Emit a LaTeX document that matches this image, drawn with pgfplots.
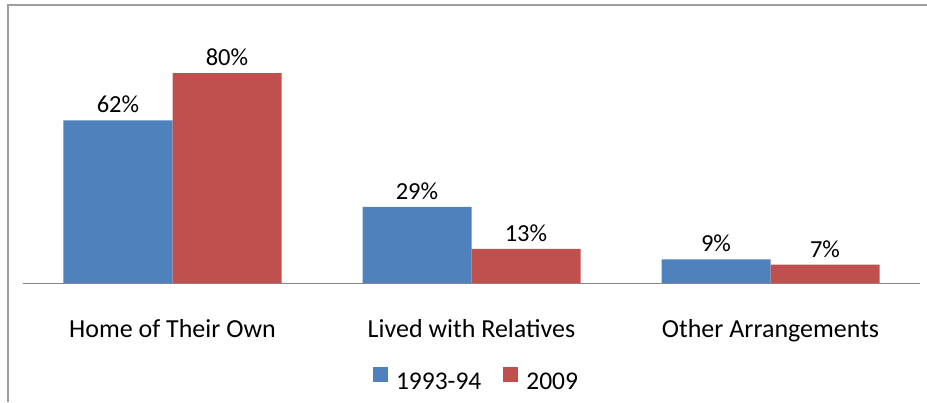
\documentclass[border=0pt]{standalone}
\usepackage{fontspec}
\setmainfont{Carlito}
\usepackage{pgfplots}
\pgfplotsset{compat=1.18}
\definecolor{xlblue}{RGB}{79,129,189}
\definecolor{xlred}{RGB}{192,80,77}
\definecolor{framegray}{RGB}{134,134,134}

\begin{document}
\begin{tikzpicture}
% picture frame and size, 1pt = 1px of the reference
\useasboundingbox (-23pt,-119pt) rectangle (904pt,283pt);
\draw[framegray!80, line width=1.5pt] (-15pt,-119pt) -- (-15pt,278pt) -- (904pt,278pt);
\begin{axis}[
    at={(0,0)}, anchor=south west,
    scale only axis,
    width=897pt, height=262.5pt,
    ybar, ybar=0pt,
    bar width=109pt,
    ymin=0, ymax=100,
    xmin=-0.5, xmax=2.5,
    axis y line=none,
    axis x line*=bottom,
    x axis line style={-, draw=framegray, line width=1pt},
    xtick=data,
    xticklabels={Home of Their Own, Lived with Relatives, Other Arrangements},
    xtick style={draw=none},
    xticklabel style={anchor=base, yshift=-50pt, font=\fontsize{26}{30}\selectfont},
    nodes near coords={\pgfmathprintnumber[assume math mode=true]{\pgfplotspointmeta}\%},
    nodes near coords style={anchor=south, inner sep=0pt, yshift=7pt, font=\fontsize{24.5}{28}\selectfont, black},
    legend columns=2,
    legend style={draw=none, fill=none, at={(0.5045,0)}, anchor=center, yshift=-96pt,
        inner sep=0pt, nodes={inner sep=0pt}, font=\fontsize{25.5}{30}\selectfont,
        /tikz/every odd column/.append style={column sep=8pt},
        /tikz/every even column/.append style={column sep=22pt}},
    legend image code/.code={\fill[#1] (0pt,-1pt) rectangle (15pt,14pt);},
]
\addplot[fill=xlblue, draw=none] coordinates {(0,62) (1,29) (2,9)};
\addplot[fill=xlred, draw=none] coordinates {(0,80) (1,13) (2,7)};
\legend{1993-94, 2009}
\end{axis}
\end{tikzpicture}
\end{document}
